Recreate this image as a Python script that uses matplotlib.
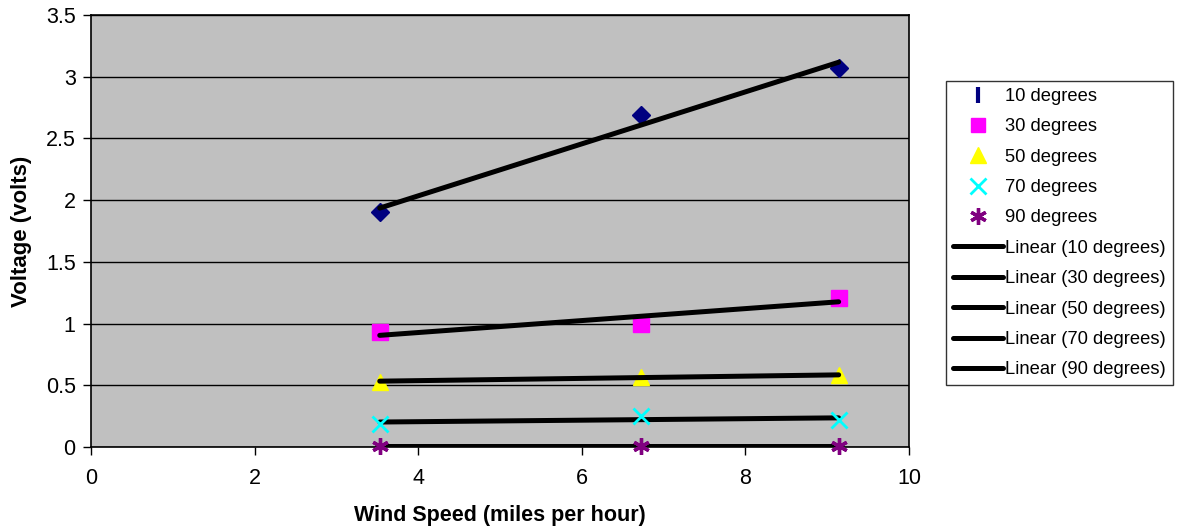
import numpy as np
import matplotlib
matplotlib.use("Agg")
import matplotlib.pyplot as plt
from matplotlib.lines import Line2D

plt.rcParams['font.family'] = ['Liberation Sans', 'DejaVu Sans']

# Wind speed (mph) at which voltage was measured
wind_speed = [3.53, 6.72, 9.14]

# Measured voltage for each blade angle
series_names = ["10 degrees", "30 degrees", "50 degrees", "70 degrees", "90 degrees"]
volts_10 = [1.90, 2.69, 3.07]
volts_30 = [0.93, 1.00, 1.21]
volts_50 = [0.53, 0.57, 0.58]
volts_70 = [0.19, 0.25, 0.22]
volts_90 = [0.01, 0.01, 0.01]

x_ticks = [0, 2, 4, 6, 8, 10]
y_ticks = [0, 0.5, 1, 1.5, 2, 2.5, 3, 3.5]

all_series = [volts_10, volts_30, volts_50, volts_70, volts_90]
colors = ["#000080", "#FF00FF", "#FFFF00", "#00FFFF", "#800080"]
markers = ["D", "s", "^", "x", "*"]

fig = plt.figure(figsize=(11.77, 5.31), dpi=100)
ax = fig.add_axes([0.0773, 0.1582, 0.6950, 0.8136])
ax.set_facecolor("#C0C0C0")

x = np.array(wind_speed)
# Least-squares trendlines
for vals in all_series:
    k, b = np.polyfit(x, np.array(vals), 1)
    xs = np.array([x.min(), x.max()])
    ax.plot(xs, k * xs + b, color="black", lw=3.6, solid_capstyle="round", zorder=3)

# Data markers
for vals, c, m in zip(all_series, colors, markers):
    if m == "x":
        ax.plot(x, vals, ls="none", marker="x", color=c, ms=11, mew=2, zorder=4, clip_on=False)
    elif m == "*":
        ax.plot(x, vals, ls="none", marker=(6, 2, 0), color=c, ms=12, mew=2.4, zorder=4, clip_on=False)
    elif m == "D":
        ax.plot(x, vals, ls="none", marker="D", color=c, ms=9.5, zorder=2.5, clip_on=False)
    else:
        ax.plot(x, vals, ls="none", marker=m, color=c, ms=11.5, zorder=2.5, clip_on=False)

ax.set_xlim(0, 10)
ax.set_ylim(0, 3.5)
ax.set_xticks(x_ticks)
ax.set_yticks(y_ticks)
ax.set_xticklabels([str(t) for t in x_ticks])
ax.set_yticklabels(["0", "0.5", "1", "1.5", "2", "2.5", "3", "3.5"])
ax.yaxis.grid(True, color="black", lw=1.0)
ax.set_axisbelow(True)
for s in ax.spines.values():
    s.set_color("black")
    s.set_linewidth(1.2)
ax.tick_params(axis="both", direction="out", length=6, width=1, labelsize=15.5, colors="black")
ax.tick_params(axis="x", pad=9)
ax.tick_params(axis="y", pad=5)

ax.set_xlabel("Wind Speed (miles per hour)", fontsize=15.5, fontweight="bold", labelpad=12)
ax.set_ylabel("Voltage (volts)", fontsize=16, fontweight="bold", labelpad=10)

# Legend entries
handles = [
    Line2D([], [], ls="none", marker="|", color=colors[0], ms=11, mew=3),
    Line2D([], [], ls="none", marker="s", color=colors[1], ms=10),
    Line2D([], [], ls="none", marker="^", color=colors[2], ms=11),
    Line2D([], [], ls="none", marker="x", color=colors[3], ms=11, mew=2),
    Line2D([], [], ls="none", marker=(6, 2, 0), color=colors[4], ms=12, mew=2.4),
]
labels = list(series_names)
for name in series_names:
    handles.append(Line2D([], [], color="black", lw=3.6, solid_capstyle="round"))
    labels.append("Linear (" + name + ")")

leg = fig.legend(handles, labels, loc="upper left", bbox_to_anchor=(946 / 1177, 1 - 81 / 531),
                 fontsize=13.2, frameon=True, fancybox=False, edgecolor="black",
                 handlelength=2.75, handletextpad=0.1, labelspacing=0.73, borderpad=0.38,
                 borderaxespad=0.0)
leg.get_frame().set_linewidth(1.0)

fig.savefig("out.png", dpi=100)
